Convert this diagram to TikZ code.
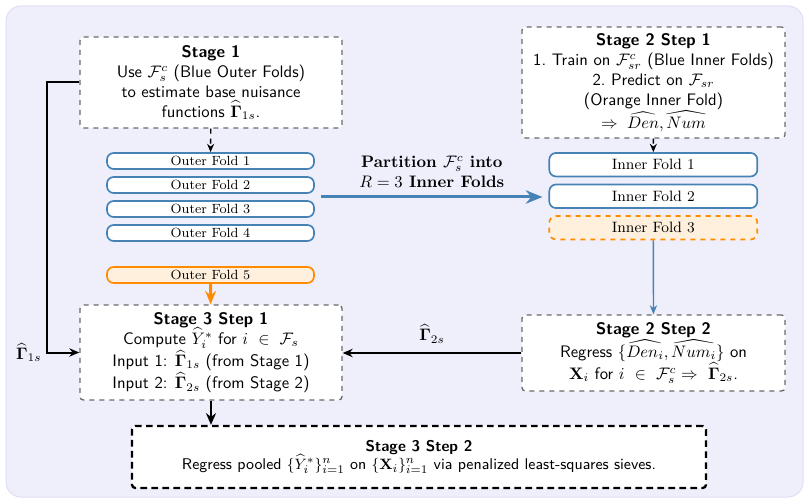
\documentclass[tikz,border=0pt]{standalone}
\usepackage{amsmath,amssymb,bm}
\usetikzlibrary{arrows.meta,fit,calc}

\definecolor{bgcol}{HTML}{EFEFFC}
\definecolor{bgedge}{HTML}{DEDEF4}
\definecolor{foldblue}{HTML}{4682B4}
\definecolor{foldorange}{HTML}{FF8C00}
\definecolor{orangefill}{HTML}{FEF0DD}
\definecolor{boxgray}{HTML}{6A6A6A}

\newcommand{\GamHat}{\widehat{\bm{\Gamma}}}

\tikzset{
  stagebox/.style={draw=boxgray, dashed, line width=0.8pt, rounded corners=2pt,
    fill=white, align=center, font=\sffamily, inner sep=0pt},
  finalbox/.style={draw=black, line width=1.4pt, dash pattern=on 4pt off 2.6pt,
    rounded corners=2pt, fill=white, align=center, inner sep=0pt,
    font=\sffamily\fontsize{9.3pt}{10.8pt}\selectfont},
  outerfold/.style={draw=foldblue, line width=1pt, rounded corners=4pt, fill=white,
    minimum width=124.2pt, minimum height=9.6pt, inner sep=0pt, font=\footnotesize},
  innerfold/.style={draw=foldblue, line width=1pt, rounded corners=4pt, fill=white,
    minimum width=124.8pt, minimum height=14.1pt, inner sep=0pt, font=\small},
  orangefold/.style={draw=foldorange, fill=orangefill},
  thinarrow/.style={draw=black, line width=0.8pt, -{Stealth[length=5pt,width=4.2pt]}},
  linkarrow/.style={draw=black, line width=1.2pt, -{Stealth[length=6pt,width=5pt]}},
  orangearrow/.style={draw=foldorange, line width=1.8pt, -{Stealth[length=8pt,width=6.5pt]}},
  partarrow/.style={draw=foldblue, line width=1.8pt, -{Stealth[length=10pt,width=8pt]}},
  bluearrow/.style={draw=foldblue, line width=0.8pt, -{Stealth[length=5.5pt,width=4.4pt]}},
  downarrow/.style={draw=black, line width=1.5pt, -{Stealth[length=7pt,width=6pt]}},
}

\begin{document}
\begin{tikzpicture}[x=0.6pt, y=-0.6pt]
  \path[use as bounding box] (0,0) rectangle (809,504);
  % backdrop panel
  \filldraw[fill=bgcol, draw=bgedge, line width=0.6pt, rounded corners=9pt] (6,6) rectangle (803,497);

  % Stage 1
  \node[stagebox, minimum width=157.2pt, minimum height=54.6pt] (s1) at (211,82.5)
    {\textbf{Stage 1}\\ Use $\mathcal{F}_s^c$ (Blue Outer Folds)\\ to estimate base nuisance\\ functions $\GamHat_{1s}$.};

  % outer folds
  \foreach \i/\yy in {1/161,2/185,3/209,4/233}
    \node[outerfold] (of\i) at (210.5,\yy) {Outer Fold \i};
  \node[outerfold, orangefold] (of5) at (210.5,275) {Outer Fold 5};
  \node[fit=(of1)(of4), inner sep=0pt] (outer) {};

  % Stage 2 Step 1
  \node[stagebox, minimum width=157.8pt, minimum height=66.6pt] (s21) at (653.5,82.5)
    {\textbf{Stage 2 Step 1}\\ 1.~Train on $\mathcal{F}_{sr}^c$ (Blue Inner Folds)\\ 2.~Predict on $\mathcal{F}_{sr}$\\ (Orange Inner Fold)\\ $\Rightarrow\;\widehat{Den},\widehat{Num}$};

  % inner folds
  \node[innerfold] (if1) at (653.3,164.7) {Inner Fold 1};
  \node[innerfold] (if2) at (653.3,196.3) {Inner Fold 2};
  \node[innerfold, orangefold, dashed] (if3) at (653.3,227.7) {Inner Fold 3};

  % Stage 3 Step 1
  \node[stagebox, minimum width=157.2pt, minimum height=57pt] (s31) at (211,352.5)
    {\textbf{Stage 3 Step 1}\\ Compute $\widehat{Y}_i^*$ for $i\ \in\ \mathcal{F}_s$\\ Input 1: $\GamHat_{1s}$ (from Stage 1)\\ Input 2: $\GamHat_{2s}$ (from Stage 2)};

  % Stage 2 Step 2
  \node[stagebox, minimum width=157.8pt, minimum height=45.6pt] (s22) at (653.5,353)
    {\textbf{Stage 2 Step 2}\\ Regress $\{\widehat{Den_i},\widehat{Num_i}\}$ on\\ $\mathbf{X}_i$ for $i\ \in\ \mathcal{F}_s^c \Rightarrow\ \GamHat_{2s}$.};

  % Stage 3 Step 2
  \node[finalbox, minimum width=344.4pt, minimum height=37.2pt] (s32) at (419,457)
    {\textbf{Stage 3 Step 2}\\ Regress pooled $\{\widehat{Y}_i^*\}_{i=1}^n$ on $\{\mathbf{X}_i\}_{i=1}^n$ via penalized least-squares sieves.};

  % connectors
  \draw[thinarrow, dashed] (s1) -- (of1);
  \draw[thinarrow, dashed] (s21) -- (if1);
  \draw[orangearrow] (of5) -- (s31);
  \draw[partarrow, shorten <=3.6pt, shorten >=3.6pt] (outer.east) -- (outer.east -| if2.west)
    node[midway, above=1.5pt, align=center, font=\bfseries]
    {Partition $\mathcal{F}_s^c$ into\\ $R=3$ Inner Folds};
  \draw[bluearrow] (if3) -- (s22);
  \draw[linkarrow] (s22.west) -- (s22.west -| s31.east)
    node[midway, above=2pt] {$\GamHat_{2s}$};
  \draw[linkarrow] (s1.west) -- ++(-32,0) coordinate (fb) |- (s31.west);
  \node[left=0pt] (fblabel) at (fb |- s31.west) {$\GamHat_{1s}$};
  \draw[downarrow] (s31.south) -- (s31.south |- s32.north);
\end{tikzpicture}
\end{document}
